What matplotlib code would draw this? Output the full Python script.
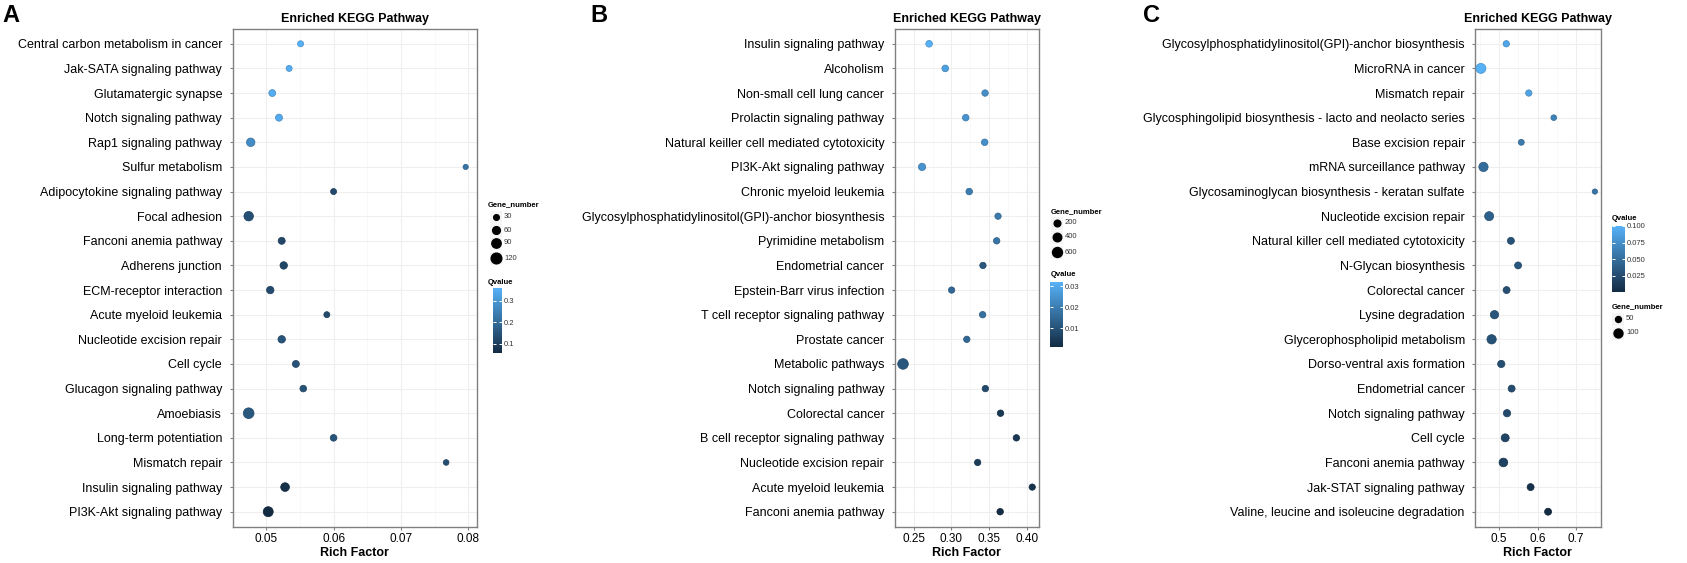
import numpy as np
import matplotlib
matplotlib.use("Agg")
import matplotlib.pyplot as plt
from matplotlib.colors import LinearSegmentedColormap, Normalize
from matplotlib.cm import ScalarMappable

plt.rcParams['font.family'] = ['Liberation Sans', 'DejaVu Sans']

# ---------------- Panel A ----------------
a_terms = ["Central carbon metabolism in cancer", "Jak-SATA signaling pathway",
           "Glutamatergic synapse", "Notch signaling pathway", "Rap1 signaling pathway",
           "Sulfur metabolism", "Adipocytokine signaling pathway", "Focal adhesion",
           "Fanconi anemia pathway", "Adherens junction", "ECM-receptor interaction",
           "Acute myeloid leukemia", "Nucleotide excision repair", "Cell cycle",
           "Glucagon signaling pathway", "Amoebiasis", "Long-term potentiation",
           "Mismatch repair", "Insulin signaling pathway", "PI3K-Akt signaling pathway"]
a_rich = [0.0551, 0.0534, 0.0509, 0.0519, 0.0477, 0.0796, 0.0600, 0.0474, 0.0523, 0.0526,
          0.0506, 0.0590, 0.0523, 0.0544, 0.0555, 0.0474, 0.0600, 0.0767, 0.0528, 0.0503]
a_genes = [34, 34, 46, 48, 73, 25, 34, 93, 48, 55, 55, 34, 55, 48, 43, 120, 43, 30, 77, 104]
a_q = [0.358, 0.352, 0.347, 0.342, 0.275, 0.220, 0.125, 0.140, 0.120, 0.118,
       0.130, 0.128, 0.150, 0.148, 0.145, 0.160, 0.150, 0.135, 0.070, 0.058]
a_xticks = [0.05, 0.06, 0.07, 0.08]
a_xticklabels = ["0.05", "0.06", "0.07", "0.08"]
a_size_legend = [30, 60, 90, 120]
a_q_ticks = [0.1, 0.2, 0.3]
a_q_ticklabels = ["0.1", "0.2", "0.3"]

# ---------------- Panel B ----------------
b_terms = ["Insulin signaling pathway", "Alcoholism", "Non-small cell lung cancer",
           "Prolactin signaling pathway", "Natural keiller cell mediated cytotoxicity",
           "PI3K-Akt signaling pathway", "Chronic myeloid leukemia",
           "Glycosylphosphatidylinositol(GPI)-anchor biosynthesis", "Pyrimidine metabolism",
           "Endometrial cancer", "Epstein-Barr virus infection", "T cell receptor signaling pathway",
           "Prostate cancer", "Metabolic pathways", "Notch signaling pathway", "Colorectal cancer",
           "B cell receptor signaling pathway", "Nucleotide excision repair",
           "Acute myeloid leukemia", "Fanconi anemia pathway"]
b_rich = [0.2705, 0.2918, 0.3443, 0.3188, 0.3438, 0.2612, 0.3234, 0.3614, 0.3596, 0.3415,
          0.3002, 0.3411, 0.3202, 0.2361, 0.3447, 0.3647, 0.3856, 0.3345, 0.4065, 0.3642]
b_genes = [200, 200, 180, 190, 190, 260, 190, 170, 180, 175,
           170, 180, 175, 700, 180, 185, 180, 175, 170, 185]
b_q = [0.032, 0.028, 0.024, 0.025, 0.024, 0.025, 0.020, 0.019, 0.018, 0.011,
       0.015, 0.017, 0.015, 0.011, 0.008, 0.004, 0.004, 0.005, 0.003, 0.001]
b_xticks = [0.25, 0.30, 0.35, 0.40]
b_xticklabels = ["0.25", "0.30", "0.35", "0.40"]
b_size_legend = [200, 400, 600]
b_q_ticks = [0.01, 0.02, 0.03]
b_q_ticklabels = ["0.01", "0.02", "0.03"]

# ---------------- Panel C ----------------
c_terms = ["Glycosylphosphatidylinositol(GPI)-anchor biosynthesis", "MicroRNA in cancer",
           "Mismatch repair", "Glycosphingolipid biosynthesis - lacto and neolacto series",
           "Base excision repair", "mRNA surceillance pathway",
           "Glycosaminoglycan biosynthesis - keratan sulfate", "Nucleotide excision repair",
           "Natural killer cell mediated cytotoxicity", "N-Glycan biosynthesis",
           "Colorectal cancer", "Lysine degradation", "Glycerophospholipid metabolism",
           "Dorso-ventral axis formation", "Endometrial cancer", "Notch signaling pathway",
           "Cell cycle", "Fanconi anemia pathway", "Jak-STAT signaling pathway",
           "Valine, leucine and isoleucine degradation"]
c_rich = [0.5187, 0.4526, 0.5773, 0.6423, 0.5577, 0.4593, 0.7493, 0.4741, 0.5307, 0.5494,
          0.5195, 0.4880, 0.4805, 0.5056, 0.5326, 0.5206, 0.5159, 0.5112, 0.5820, 0.6275]
c_genes = [55, 121, 55, 46, 50, 107, 41, 101, 65, 65, 65, 88, 107, 70, 65, 70, 82, 95, 65, 65]
c_q = [0.092, 0.100, 0.090, 0.065, 0.060, 0.050, 0.055, 0.040, 0.030, 0.032,
       0.027, 0.032, 0.030, 0.027, 0.025, 0.024, 0.020, 0.018, 0.006, 0.001]
c_xticks = [0.5, 0.6, 0.7]
c_xticklabels = ["0.5", "0.6", "0.7"]
c_size_legend = [50, 100]
c_q_ticks = [0.025, 0.050, 0.075, 0.100]
c_q_ticklabels = ["0.025", "0.050", "0.075", "0.100"]

W, H, DPI = 1687, 563, 100
fig = plt.figure(figsize=(W / DPI, H / DPI), dpi=DPI)
fig.patch.set_facecolor("white")

cmap = LinearSegmentedColormap.from_list("gg", ["#132B43", "#56B1F7"])


def px_axes(l, t, r, b):
    return fig.add_axes([l / W, 1 - b / H, (r - l) / W, (b - t) / H])


def sizes(g, a, b):
    # marker diameter in pixels grows with sqrt(gene number); returns area in pt^2
    d_px = a + b * np.sqrt(np.asarray(g, float))
    return (d_px * 72 / DPI) ** 2


def darker(cols, f=0.8):
    cols = np.array(cols)
    cols[:, :3] *= f
    return cols


# overlay axes in pixel coordinates for legends
lax = fig.add_axes([0, 0, 1, 1], zorder=5)
lax.set_xlim(0, W)
lax.set_ylim(H, 0)
lax.axis("off")
lax.patch.set_alpha(0)

panels = [
    dict(letter="A", lx=2, terms=a_terms, rich=a_rich, genes=a_genes, q=a_q,
         box=(232.5, 29, 476.8, 526.5), xlim=(0.04585, 0.08125),
         xticks=a_xticks, xtl=a_xticklabels, minor=[0.045, 0.055, 0.065, 0.075],
         sz=(0.69, 0.914), sleg=a_size_legend, qt=a_q_ticks, qtl=a_q_ticklabels,
         sleg_title=(488, 205), sleg_x=496, sleg_y=[217, 230, 243, 258],
         q_title=(488, 282), cbar=(493, 288, 502, 353)),
    dict(letter="B", lx=590, terms=b_terms, rich=b_rich, genes=b_genes, q=b_q,
         box=(894.6, 29, 1038.6, 526.5), xlim=(0.2277, 0.4149),
         xticks=b_xticks, xtl=b_xticklabels, minor=[0.225, 0.275, 0.325, 0.375],
         sz=(2.2, 0.317), sleg=b_size_legend, qt=b_q_ticks, qtl=b_q_ticklabels,
         sleg_title=(1051, 212), sleg_x=1057, sleg_y=[223, 237, 252],
         q_title=(1051, 274), cbar=(1050, 282, 1063, 347)),
    dict(letter="C", lx=1143, terms=c_terms, rich=c_rich, genes=c_genes, q=c_q,
         box=(1475.2, 29, 1600.6, 526.5), xlim=(0.4378, 0.7642),
         xticks=c_xticks, xtl=c_xticklabels, minor=[0.45, 0.55, 0.65, 0.75],
         sz=(-1.24, 1.02), sleg=c_size_legend, qt=c_q_ticks, qtl=c_q_ticklabels,
         sleg_title=(1612, 307), sleg_x=1618, sleg_y=[319, 333],
         q_title=(1612, 219), cbar=(1612, 226, 1625, 292)),
]

for p in panels:
    ax = px_axes(*p["box"])
    n = len(p["terms"])
    y = np.arange(n)[::-1]
    norm = Normalize(min(p["q"]), max(p["q"]))
    s = sizes(p["genes"], *p["sz"])
    cols = cmap(norm(np.array(p["q"])))
    ax.scatter(p["rich"], y, s=s, c=cols, edgecolors=darker(cols, 0.8),
               linewidths=0.5, zorder=3)
    ax.set_xlim(*p["xlim"])
    ax.set_ylim(-0.6, n - 0.4)
    ax.set_yticks(y)
    ax.set_yticklabels(p["terms"], fontsize=9, color="black")
    ax.set_xticks(p["xticks"])
    ax.set_xticklabels(p["xtl"], fontsize=8.5, color="black")
    ax.set_xticks(p["minor"], minor=True)
    ax.set_axisbelow(True)
    ax.grid(which="major", color="#EFEFEF", linewidth=0.8)
    ax.grid(which="minor", axis="x", color="#F6F6F6", linewidth=0.5)
    for sp in ax.spines.values():
        sp.set_color("#808080")
        sp.set_linewidth(1.0)
    ax.tick_params(which="major", length=2.5, color="#808080", width=0.8)
    ax.tick_params(axis="y", pad=5)
    ax.tick_params(axis="x", pad=2)
    ax.tick_params(which="minor", length=0)
    ax.set_title("Enriched KEGG Pathway", fontsize=9, fontweight="bold", pad=5)
    ax.set_xlabel("Rich Factor", fontsize=9, fontweight="bold", labelpad=1.5)

    fig.text(p["lx"] / W, 1 - 4 / H, p["letter"], fontsize=17, fontweight="bold",
             ha="left", va="top")

    # size legend
    tx, ty = p["sleg_title"]
    lax.text(tx, ty, "Gene_number", fontsize=5.5, fontweight="bold", ha="left", va="center")
    ls = sizes(p["sleg"], *p["sz"])
    for val, yy, ss in zip(p["sleg"], p["sleg_y"], ls):
        lax.add_patch(plt.Rectangle((p["sleg_x"] - 6, yy - 6.5), 12, 13,
                                    facecolor="#F5F5F5", edgecolor="none"))
        lax.scatter([p["sleg_x"]], [yy], s=[ss], c="black")
        lax.text(p["sleg_x"] + 8, yy, str(val), fontsize=5.5, color="#333333",
                 ha="left", va="center")

    # colour legend
    qx, qy = p["q_title"]
    lax.text(qx, qy, "Qvalue", fontsize=5.5, fontweight="bold", ha="left", va="center")
    cax = px_axes(*p["cbar"])
    cb = fig.colorbar(ScalarMappable(norm=norm, cmap=cmap), cax=cax)
    cb.outline.set_visible(False)
    cb.set_ticks(p["qt"])
    cb.set_ticklabels(p["qtl"])
    cax.tick_params(left=True, right=True, direction="in", length=2, width=0.7,
                    color="white", labelsize=5.5, labelcolor="#333333", pad=1.5,
                    labelleft=False, labelright=True)

fig.savefig("out.png", dpi=DPI)
